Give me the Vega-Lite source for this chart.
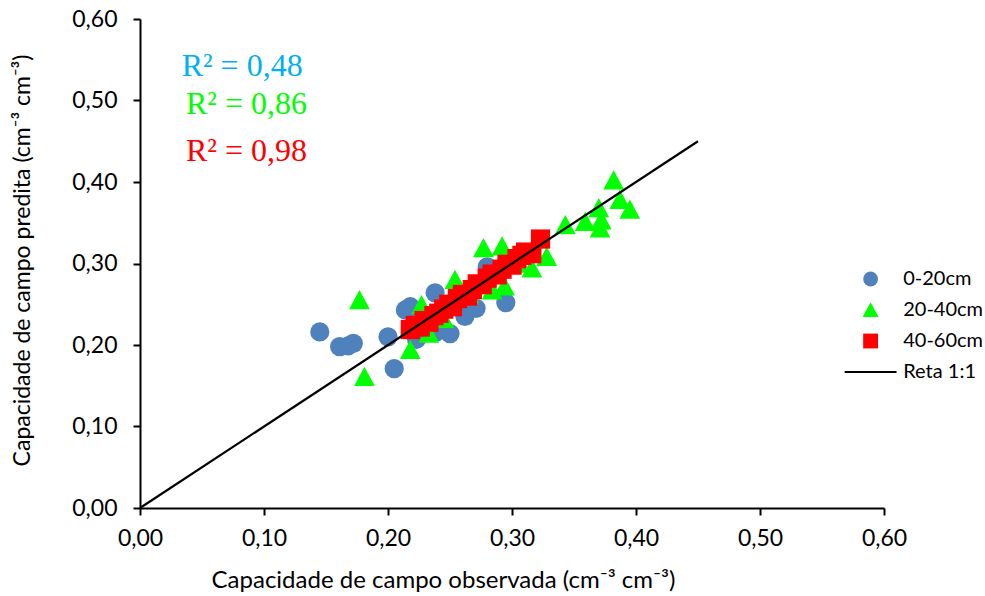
{
  "$schema": "https://vega.github.io/schema/vega-lite/v6.json",
  "width": 744,
  "height": 489,
  "autosize": {"type": "none"},
  "padding": {"left": 140, "top": 19, "right": 101, "bottom": 88},
  "background": "white",
  "config": {
    "view": {"stroke": null},
    "axis": {
      "grid": false,
      "domainColor": "black",
      "domainWidth": 2,
      "tickColor": "black",
      "tickWidth": 2,
      "tickSize": 7,
      "labelColor": "black",
      "titleColor": "black",
      "labelFont": "Lato",
      "labelFontSize": 23,
      "titleFont": "Lato",
      "titleFontSize": 23,
      "titleFontWeight": "normal",
      "labelOverlap": false,
      "labelFlush": false
    }
  },
  "datasets": {
    "pts": [
      {"obs": 0.145, "pred": 0.216, "serie": "0-20cm"},
      {"obs": 0.161, "pred": 0.198, "serie": "0-20cm"},
      {"obs": 0.168, "pred": 0.199, "serie": "0-20cm"},
      {"obs": 0.172, "pred": 0.202, "serie": "0-20cm"},
      {"obs": 0.200, "pred": 0.210, "serie": "0-20cm"},
      {"obs": 0.205, "pred": 0.171, "serie": "0-20cm"},
      {"obs": 0.218, "pred": 0.247, "serie": "0-20cm"},
      {"obs": 0.238, "pred": 0.264, "serie": "0-20cm"},
      {"obs": 0.280, "pred": 0.296, "serie": "0-20cm"},
      {"obs": 0.295, "pred": 0.252, "serie": "0-20cm"},
      {"obs": 0.271, "pred": 0.245, "serie": "0-20cm"},
      {"obs": 0.262, "pred": 0.235, "serie": "0-20cm"},
      {"obs": 0.250, "pred": 0.214, "serie": "0-20cm"},
      {"obs": 0.239, "pred": 0.216, "serie": "0-20cm"},
      {"obs": 0.223, "pred": 0.207, "serie": "0-20cm"},
      {"obs": 0.214, "pred": 0.243, "serie": "0-20cm"},
      {"obs": 0.177, "pred": 0.255, "serie": "20-40cm"},
      {"obs": 0.181, "pred": 0.161, "serie": "20-40cm"},
      {"obs": 0.218, "pred": 0.194, "serie": "20-40cm"},
      {"obs": 0.233, "pred": 0.214, "serie": "20-40cm"},
      {"obs": 0.227, "pred": 0.249, "serie": "20-40cm"},
      {"obs": 0.245, "pred": 0.232, "serie": "20-40cm"},
      {"obs": 0.254, "pred": 0.280, "serie": "20-40cm"},
      {"obs": 0.265, "pred": 0.262, "serie": "20-40cm"},
      {"obs": 0.284, "pred": 0.267, "serie": "20-40cm"},
      {"obs": 0.294, "pred": 0.272, "serie": "20-40cm"},
      {"obs": 0.277, "pred": 0.319, "serie": "20-40cm"},
      {"obs": 0.292, "pred": 0.321, "serie": "20-40cm"},
      {"obs": 0.305, "pred": 0.300, "serie": "20-40cm"},
      {"obs": 0.316, "pred": 0.294, "serie": "20-40cm"},
      {"obs": 0.328, "pred": 0.308, "serie": "20-40cm"},
      {"obs": 0.343, "pred": 0.347, "serie": "20-40cm"},
      {"obs": 0.359, "pred": 0.351, "serie": "20-40cm"},
      {"obs": 0.370, "pred": 0.368, "serie": "20-40cm"},
      {"obs": 0.372, "pred": 0.353, "serie": "20-40cm"},
      {"obs": 0.371, "pred": 0.343, "serie": "20-40cm"},
      {"obs": 0.382, "pred": 0.402, "serie": "20-40cm"},
      {"obs": 0.387, "pred": 0.378, "serie": "20-40cm"},
      {"obs": 0.395, "pred": 0.366, "serie": "20-40cm"},
      {"obs": 0.218, "pred": 0.219, "serie": "40-60cm"},
      {"obs": 0.222, "pred": 0.224, "serie": "40-60cm"},
      {"obs": 0.226, "pred": 0.222, "serie": "40-60cm"},
      {"obs": 0.229, "pred": 0.230, "serie": "40-60cm"},
      {"obs": 0.233, "pred": 0.228, "serie": "40-60cm"},
      {"obs": 0.237, "pred": 0.236, "serie": "40-60cm"},
      {"obs": 0.241, "pred": 0.239, "serie": "40-60cm"},
      {"obs": 0.245, "pred": 0.244, "serie": "40-60cm"},
      {"obs": 0.249, "pred": 0.250, "serie": "40-60cm"},
      {"obs": 0.252, "pred": 0.247, "serie": "40-60cm"},
      {"obs": 0.256, "pred": 0.257, "serie": "40-60cm"},
      {"obs": 0.260, "pred": 0.262, "serie": "40-60cm"},
      {"obs": 0.264, "pred": 0.260, "serie": "40-60cm"},
      {"obs": 0.268, "pred": 0.268, "serie": "40-60cm"},
      {"obs": 0.272, "pred": 0.275, "serie": "40-60cm"},
      {"obs": 0.276, "pred": 0.274, "serie": "40-60cm"},
      {"obs": 0.280, "pred": 0.282, "serie": "40-60cm"},
      {"obs": 0.284, "pred": 0.287, "serie": "40-60cm"},
      {"obs": 0.288, "pred": 0.286, "serie": "40-60cm"},
      {"obs": 0.292, "pred": 0.293, "serie": "40-60cm"},
      {"obs": 0.296, "pred": 0.299, "serie": "40-60cm"},
      {"obs": 0.300, "pred": 0.298, "serie": "40-60cm"},
      {"obs": 0.304, "pred": 0.306, "serie": "40-60cm"},
      {"obs": 0.308, "pred": 0.310, "serie": "40-60cm"},
      {"obs": 0.311, "pred": 0.314, "serie": "40-60cm"},
      {"obs": 0.316, "pred": 0.312, "serie": "40-60cm"},
      {"obs": 0.323, "pred": 0.330, "serie": "40-60cm"}
    ],
    "reta": [
      {"obs": 0, "pred": 0},
      {"obs": 0.45, "pred": 0.45}
    ],
    "r2": [
      {"obs": 0.0336, "pred": 0.530, "label": "R² = 0,48", "col": "#00B0F0"},
      {"obs": 0.0371, "pred": 0.4834, "label": "R² = 0,86", "col": "#00FF00"},
      {"obs": 0.0371, "pred": 0.4261, "label": "R² = 0,98", "col": "#FF0000"}
    ]
  },
  "layer": [
    {
      "data": {"name": "pts"},
      "mark": {"type": "point", "filled": true, "opacity": 1, "size": 370, "strokeWidth": 0},
      "encoding": {
        "x": {
          "field": "obs",
          "type": "quantitative",
          "scale": {"domain": [0, 0.6], "nice": false},
          "axis": {
            "values": [0, 0.1, 0.2, 0.3, 0.4, 0.5, 0.6],
            "labelExpr": "replace(format(datum.value, '.2f'), '.', ',')",
            "labelPadding": 12,
            "title": "Capacidade de campo observada (cm⁻³ cm⁻³)",
            "titleFontSize": 24,
            "titleX": 303,
            "titleY": 72,
            "titleAlign": "center",
            "titleBaseline": "middle"
          }
        },
        "y": {
          "field": "pred",
          "type": "quantitative",
          "scale": {"domain": [0, 0.6], "nice": false},
          "axis": {
            "values": [0, 0.1, 0.2, 0.3, 0.4, 0.5, 0.6],
            "labelExpr": "replace(format(datum.value, '.2f'), '.', ',')",
            "labelPadding": 16,
            "title": "Capacidade de campo predita (cm⁻³ cm⁻³)",
            "titleX": -118,
            "titleY": 241,
            "titleAngle": 270,
            "titleAlign": "center",
            "titleBaseline": "middle"
          }
        },
        "color": {
          "field": "serie",
          "type": "nominal",
          "scale": {
            "domain": ["0-20cm", "20-40cm", "40-60cm", "Reta 1:1"],
            "range": ["#4F81BD", "#00FF00", "#FF0000", "#000000"]
          },
          "legend": {
            "title": null,
            "orient": "none",
            "legendX": 720.6,
            "legendY": 250,
            "symbolSize": 220,
            "symbolStrokeWidth": 0,
            "symbolOpacity": 1,
            "labelFont": "Lato",
            "labelFontSize": 20,
            "labelColor": "black",
            "labelOffset": 22.6,
            "rowPadding": 11,
            "padding": 0
          }
        },
        "shape": {
          "field": "serie",
          "type": "nominal",
          "scale": {
            "domain": ["0-20cm", "20-40cm", "40-60cm", "Reta 1:1"],
            "range": ["circle", "M0,-1.05L1.08,0.95L-1.08,0.95Z", "square", "M-3.5,-0.14L3.5,-0.14L3.5,0.14L-3.5,0.14Z"]
          },
          "legend": {
            "title": null,
            "orient": "none",
            "legendX": 720.6,
            "legendY": 250,
            "symbolSize": 220,
            "symbolStrokeWidth": 0,
            "symbolOpacity": 1,
            "labelFont": "Lato",
            "labelFontSize": 20,
            "labelColor": "black",
            "labelOffset": 22.6,
            "rowPadding": 11,
            "padding": 0
          }
        }
      }
    },
    {
      "data": {"name": "reta"},
      "mark": {"type": "line", "color": "black", "strokeWidth": 2.2},
      "encoding": {
        "x": {"field": "obs", "type": "quantitative"},
        "y": {"field": "pred", "type": "quantitative"}
      }
    },
    {
      "data": {"name": "r2"},
      "mark": {"type": "text", "font": "Liberation Serif", "fontSize": 32, "align": "left", "baseline": "alphabetic"},
      "encoding": {
        "x": {"field": "obs", "type": "quantitative"},
        "y": {"field": "pred", "type": "quantitative"},
        "text": {"field": "label", "type": "nominal"},
        "color": {"field": "col", "type": "nominal", "scale": null}
      }
    }
  ]
}
